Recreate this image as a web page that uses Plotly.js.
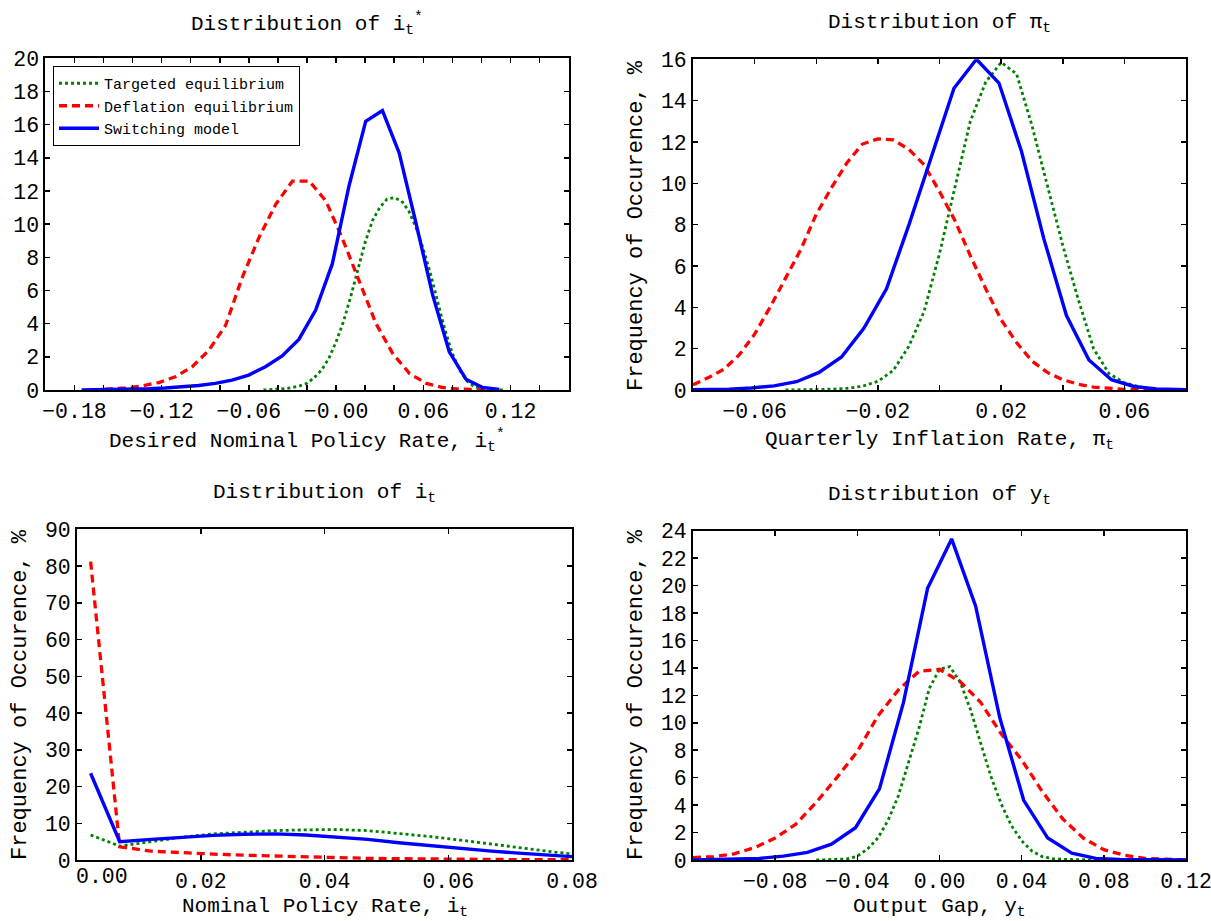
<!DOCTYPE html>
<html>
<head>
<meta charset="utf-8">
<script src="https://cdn.plot.ly/plotly-3.0.1.min.js"></script>
<style>html,body{margin:0;padding:0;background:#fff;}</style>
</head>
<body>
<div id="chart" style="width:1211px;height:921px;"></div>
<script>
// ---------- Panel A: Distribution of i*_t ----------
const a_target_x = [-0.050,-0.045,-0.040,-0.035,-0.030,-0.025,-0.020,-0.015,-0.010,-0.005,0.000,0.005,0.010,0.015,0.020,0.025,0.030,0.035,0.040,0.045,0.050,0.055,0.060,0.065,0.070,0.075,0.080,0.085,0.090,0.095,0.100,0.105,0.110,0.115];
const a_target_y = [0.0,0.02,0.04,0.08,0.15,0.25,0.4,0.75,1.2,1.9,2.9,4.1,5.6,7.3,8.9,10.2,11.0,11.5,11.6,11.4,10.8,9.8,8.5,7.0,5.3,3.6,2.2,1.2,0.55,0.2,0.08,0.03,0.01,0.0];
const a_defl_x = [-0.168,-0.1565,-0.145,-0.1335,-0.122,-0.1105,-0.099,-0.0875,-0.076,-0.0645,-0.053,-0.0415,-0.030,-0.0185,-0.007,0.0045,0.016,0.0275,0.039,0.0505,0.062,0.0735,0.085,0.0965,0.108];
const a_defl_y = [0,0.04,0.12,0.25,0.45,0.8,1.4,2.4,3.9,6.8,9.2,11.2,12.6,12.6,11.4,9.1,6.5,4.0,2.2,1.0,0.4,0.15,0.05,0.01,0];
const a_switch_x = [-0.1751,-0.1636,-0.1521,-0.1406,-0.1291,-0.1176,-0.1061,-0.0946,-0.0831,-0.0716,-0.0601,-0.0486,-0.0371,-0.0256,-0.0141,-0.0026,0.0089,0.0204,0.0319,0.0434,0.0549,0.0664,0.0779,0.0894,0.1009,0.1124];
const a_switch_y = [0.01,0.02,0.03,0.05,0.08,0.12,0.18,0.27,0.40,0.6,0.9,1.4,2.05,3.05,4.8,7.6,12.3,16.2,16.85,14.3,10.1,5.75,2.3,0.65,0.15,0.03];

// ---------- Panel B: Distribution of pi_t ----------
const b_target_x = [-0.050,-0.045,-0.040,-0.035,-0.030,-0.025,-0.020,-0.015,-0.010,-0.005,0.000,0.005,0.010,0.015,0.020,0.025,0.030,0.035,0.040,0.045,0.050,0.055,0.060,0.065,0.070,0.075];
const b_target_y = [0.0,0.01,0.02,0.04,0.08,0.18,0.42,0.95,2.1,3.8,6.6,9.8,13.0,14.9,15.85,15.3,12.8,9.9,7.0,4.4,2.0,0.8,0.35,0.15,0.04,0.0];
const b_defl_x = [-0.080,-0.075,-0.070,-0.065,-0.060,-0.055,-0.050,-0.045,-0.040,-0.035,-0.030,-0.025,-0.020,-0.015,-0.010,-0.005,0.000,0.005,0.010,0.015,0.020,0.025,0.030,0.035,0.040,0.045,0.050,0.055,0.060,0.065,0.070];
const b_defl_y = [0.25,0.6,1.0,1.7,2.7,4.0,5.4,6.8,8.5,9.8,11.0,11.9,12.15,12.1,11.65,10.9,9.6,8.2,6.5,4.9,3.4,2.3,1.4,0.85,0.5,0.28,0.14,0.07,0.03,0.01,0.0];
const b_switch_x = [-0.0829,-0.0756,-0.0683,-0.061,-0.0537,-0.0464,-0.0391,-0.0318,-0.0245,-0.0172,-0.0099,-0.0026,0.0047,0.0120,0.0193,0.0266,0.0339,0.0412,0.0485,0.0558,0.0631,0.0704,0.0777,0.085];
const b_switch_y = [0.01,0.02,0.04,0.1,0.2,0.4,0.85,1.6,3.0,4.9,8.0,11.3,14.6,16.0,14.85,11.55,7.3,3.6,1.45,0.5,0.17,0.05,0.01,0.0];

// ---------- Panel C: Distribution of i_t ----------
const c_x = [0.0022,0.0069,0.012,0.017,0.022,0.027,0.032,0.037,0.042,0.047,0.052,0.057,0.062,0.067,0.072,0.077,0.082];
const c_target_y = [6.8,3.8,5.0,6.2,7.1,7.6,8.0,8.2,8.3,8.0,7.3,6.4,5.4,4.3,3.2,2.2,1.3];
const c_defl_y = [81.2,3.6,2.4,1.9,1.6,1.3,1.05,0.85,0.6,0.45,0.35,0.25,0.2,0.15,0.1,0.08,0.05];
const c_switch_y = [23.6,5.0,5.6,6.2,6.7,7.0,7.1,6.8,6.3,5.6,4.7,3.9,3.1,2.4,1.8,1.2,0.7];

// ---------- Panel D: Distribution of y_t ----------
const d_target_x = [-0.060,-0.055,-0.050,-0.045,-0.040,-0.035,-0.030,-0.025,-0.020,-0.015,-0.010,-0.005,0.000,0.005,0.010,0.015,0.020,0.025,0.030,0.035,0.040,0.045,0.050,0.055,0.060,0.065,0.070,0.075];
const d_target_y = [0.0,0.02,0.04,0.08,0.28,0.8,1.6,2.9,4.7,7.1,9.6,12.5,13.9,14.1,13.0,11.0,8.6,6.1,4.1,2.5,1.4,0.65,0.25,0.1,0.05,0.03,0.01,0.0];
const d_defl_x = [-0.12,-0.11,-0.10,-0.09,-0.08,-0.07,-0.06,-0.05,-0.04,-0.03,-0.02,-0.01,0.00,0.01,0.02,0.03,0.04,0.05,0.06,0.07,0.08,0.09,0.10,0.11,0.12];
const d_defl_y = [0.17,0.25,0.45,0.9,1.6,2.6,4.2,6.0,7.9,10.5,12.4,13.75,13.9,13.0,11.5,9.2,7.3,5.0,3.0,1.6,0.75,0.35,0.12,0.04,0.0];
const d_switch_x = [-0.1228,-0.1111,-0.0994,-0.0877,-0.076,-0.0643,-0.0526,-0.0409,-0.0292,-0.0175,-0.0058,0.0059,0.0176,0.0293,0.041,0.0527,0.0644,0.0761,0.0878,0.0995,0.1112,0.1229];
const d_switch_y = [0.0,0.02,0.05,0.12,0.28,0.55,1.15,2.35,5.2,11.5,19.8,23.4,18.5,10.4,4.35,1.6,0.5,0.12,0.04,0.01,0.0,0.0];

// ---------- Tick values / labels ----------
const a_xtickvals = [-0.20,-0.18,-0.16,-0.14,-0.12,-0.10,-0.08,-0.06,-0.04,-0.02,0.00,0.02,0.04,0.06,0.08,0.10,0.12,0.14,0.16];
const a_xticktext = ['','\u22120.18','','','\u22120.12','','','\u22120.06','','','\u22120.00','','','0.06','','','0.12','',''];
const b_xtickvals = [-0.08,-0.06,-0.04,-0.02,0.00,0.02,0.04,0.06,0.08];
const b_xticktext = ['','\u22120.06','','\u22120.02','','0.02','','0.06',''];
const c_xtickvals = [0.00,0.02,0.04,0.06,0.08];
const c_xticktext = ['','0.02','0.04','0.06','0.08'];
const c_zeroLabel = '0.00';
const c_zeroLabelAt = 0.004;
const d_xtickvals = [-0.12,-0.08,-0.04,0.00,0.04,0.08,0.12];
const d_xticktext = ['','\u22120.08','\u22120.04','0.00','0.04','0.08','0.12'];

const seriesNames = ['Targeted equilibrium','Deflation equilibrium','Switching model'];
const titles = ['Distribution of i<sub>t</sub><sup>*</sup>','Distribution of \u03c0<sub>t</sub>','Distribution of i<sub>t</sub>','Distribution of y<sub>t</sub>'];
const xTitles = ['Desired Nominal Policy Rate, i<sub>t</sub><sup>*</sup>','Quarterly Inflation Rate, \u03c0<sub>t</sub>','Nominal Policy Rate, i<sub>t</sub>','Output Gap, y<sub>t</sub>'];
const yTitle = 'Frequency of Occurence, %';

const FONT = 'Liberation Mono, Courier New, monospace';
const GREEN = '#008000', RED = '#ff0000', BLUE = '#0000ff';
const lineT = {color: GREEN, width: 2.8, dash: 'dot'};
const lineD = {color: RED, width: 3.3, dash: '8px,5px'};
const lineS = {color: BLUE, width: 3.4, dash: 'solid'};

function tr(x, y, name, line, ax, show) {
  return {x: x, y: y, name: name, type: 'scatter', mode: 'lines', line: line,
          xaxis: 'x' + ax, yaxis: 'y' + ax, showlegend: show, hoverinfo: 'skip'};
}
const data = [
  tr(a_target_x, a_target_y, seriesNames[0], lineT, '', true),
  tr(a_defl_x, a_defl_y, seriesNames[1], lineD, '', true),
  tr(a_switch_x, a_switch_y, seriesNames[2], lineS, '', true),
  tr(b_target_x, b_target_y, seriesNames[0], lineT, '2', false),
  tr(b_defl_x, b_defl_y, seriesNames[1], lineD, '2', false),
  tr(b_switch_x, b_switch_y, seriesNames[2], lineS, '2', false),
  tr(c_x, c_target_y, seriesNames[0], lineT, '3', false),
  tr(c_x, c_defl_y, seriesNames[1], lineD, '3', false),
  tr(c_x, c_switch_y, seriesNames[2], lineS, '3', false),
  tr(d_target_x, d_target_y, seriesNames[0], lineT, '4', false),
  tr(d_defl_x, d_defl_y, seriesNames[1], lineD, '4', false),
  tr(d_switch_x, d_switch_y, seriesNames[2], lineS, '4', false)
];

const W = 1211, H = 921;
function px(v) { return v / W; }
function py(v) { return 1 - v / H; }

function axis(extra) {
  return Object.assign({
    showline: true, linewidth: 2, linecolor: '#000', mirror: 'ticks',
    ticks: 'inside', ticklen: 5, tickwidth: 1.5, tickcolor: '#000',
    showgrid: false, zeroline: false, fixedrange: true,
    ticklabeloverflow: 'allow',
    tickfont: {family: FONT, size: 21.5, color: '#000'}
  }, extra);
}

const layout = {
  width: W, height: H,
  margin: {l: 0, r: 0, t: 0, b: 0},
  paper_bgcolor: '#fff', plot_bgcolor: '#fff',
  font: {family: FONT, color: '#000'},
  showlegend: true,
  legend: {
    x: px(53), y: py(66), xanchor: 'left', yanchor: 'top',
    bgcolor: '#fff', bordercolor: '#000', borderwidth: 1,
    font: {family: FONT, size: 15, color: '#000'},
    itemwidth: 40, tracegroupgap: 0
  },
  xaxis: axis({domain: [px(45.4), px(568.6)], range: [-0.20, 0.16], tickmode: 'array', tickvals: a_xtickvals, ticktext: a_xticktext, anchor: 'y'}),
  yaxis: axis({domain: [py(390), py(58.3)], range: [0, 20], dtick: 2, tick0: 0, anchor: 'x'}),
  xaxis2: axis({domain: [px(693), px(1186)], range: [-0.08, 0.08], tickmode: 'array', tickvals: b_xtickvals, ticktext: b_xticktext, anchor: 'y2'}),
  yaxis2: axis({domain: [py(390), py(59.3)], range: [0, 16], dtick: 2, tick0: 0, anchor: 'x2'}),
  xaxis3: axis({domain: [px(77), px(572)], range: [0, 0.080001], tickmode: 'array', tickvals: c_xtickvals, ticktext: c_xticktext, anchor: 'y3'}),
  yaxis3: axis({domain: [py(860), py(529.3)], range: [0, 90], dtick: 10, tick0: 0, anchor: 'x3'}),
  xaxis4: axis({domain: [px(693), px(1186)], range: [-0.120001, 0.120001], tickmode: 'array', tickvals: d_xtickvals, ticktext: d_xticktext, anchor: 'y4'}),
  yaxis4: axis({domain: [py(860), py(530.7)], range: [0, 24], dtick: 2, tick0: 0, anchor: 'x4'}),
  annotations: []
};

function ann(text, x, y, angle, size) {
  return {text: text, xref: 'paper', yref: 'paper', x: x, y: y,
          xanchor: 'center', yanchor: 'middle', showarrow: false,
          textangle: angle || 0, font: {family: FONT, size: size || 21, color: '#000'}};
}
const A = layout.annotations;
A.push(ann(titles[0], px(307), py(23)));
A.push(ann(titles[1], px(939.5), py(23)));
A.push(ann(titles[2], px(324.5), py(493)));
A.push(ann(titles[3], px(939.5), py(495)));
A.push(ann(xTitles[0], px(307), py(440)));
A.push(ann(xTitles[1], px(939.5), py(440)));
A.push(ann(xTitles[2], px(324.5), py(907)));
A.push(ann(xTitles[3], px(939.5), py(907)));
A.push(ann(yTitle, px(636), py(226), -90, 22));
A.push(ann(yTitle, px(20), py(695), -90, 22));
A.push(ann(yTitle, px(636), py(695), -90, 22));
// first tick label of the i_t panel, drawn slightly right of the axis corner as in the original
A.push({text: c_zeroLabel, xref: 'x3', yref: 'paper', x: c_zeroLabelAt, y: py(877),
        xanchor: 'center', yanchor: 'middle', showarrow: false,
        font: {family: FONT, size: 21.5, color: '#000'}});

Plotly.newPlot('chart', data, layout, {displayModeBar: false, staticPlot: true});
</script>
</body>
</html>
